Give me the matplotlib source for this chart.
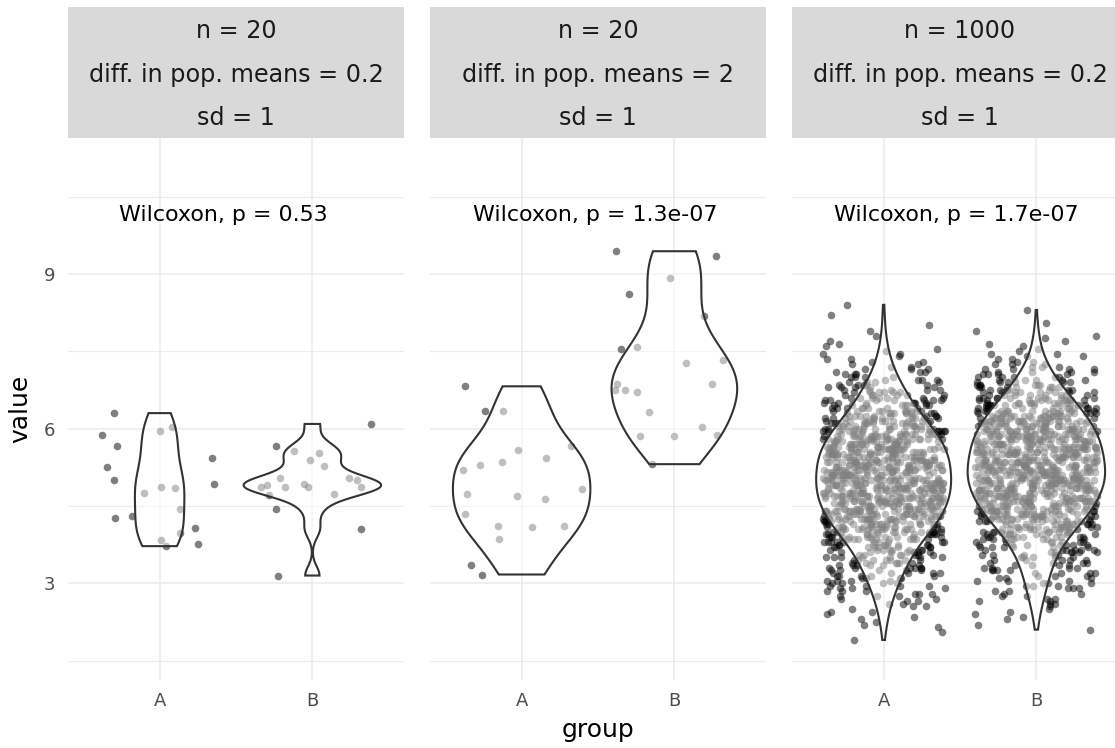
import numpy as np
import matplotlib
matplotlib.use("Agg")
import matplotlib.pyplot as plt

# values
groups = ["A", "B"]

# n = 20, diff. in pop. means = 0.2
p1_a = [6.30, 5.96, 6.04, 5.88, 5.66, 5.42, 5.26, 5.00, 4.93, 4.85,
        4.76, 4.86, 4.44, 4.30, 4.27, 4.08, 3.98, 3.83, 3.77, 3.72]
p1_b = [6.09, 5.67, 5.52, 5.40, 5.56, 5.28, 5.04, 5.04, 5.00, 4.91,
        4.86, 4.86, 4.87, 4.87, 4.93, 4.72, 4.73, 4.44, 4.05, 3.15]

# n = 20, diff. in pop. means = 2
p2_a = [6.82, 6.34, 6.35, 5.59, 5.66, 5.42, 5.36, 5.19, 5.29, 4.82,
        4.69, 4.63, 4.74, 4.34, 4.12, 4.09, 4.12, 3.85, 3.35, 3.17]
p2_b = [9.44, 9.34, 8.92, 8.61, 8.19, 7.59, 7.55, 7.28, 7.33, 6.87,
        6.87, 6.71, 6.75, 6.75, 6.32, 6.04, 5.86, 5.88, 5.85, 5.31]

# n = 1000: too many points to list, so kept as counts per value (0.05 steps)
bin_values = [
    1.90, 1.95, 2.00, 2.05, 2.10, 2.15, 2.20, 2.25, 2.30, 2.35,
    2.40, 2.45, 2.50, 2.55, 2.60, 2.65, 2.70, 2.75, 2.80, 2.85,
    2.90, 2.95, 3.00, 3.05, 3.10, 3.15, 3.20, 3.25, 3.30, 3.35,
    3.40, 3.45, 3.50, 3.55, 3.60, 3.65, 3.70, 3.75, 3.80, 3.85,
    3.90, 3.95, 4.00, 4.05, 4.10, 4.15, 4.20, 4.25, 4.30, 4.35,
    4.40, 4.45, 4.50, 4.55, 4.60, 4.65, 4.70, 4.75, 4.80, 4.85,
    4.90, 4.95, 5.00, 5.05, 5.10, 5.15, 5.20, 5.25, 5.30, 5.35,
    5.40, 5.45, 5.50, 5.55, 5.60, 5.65, 5.70, 5.75, 5.80, 5.85,
    5.90, 5.95, 6.00, 6.05, 6.10, 6.15, 6.20, 6.25, 6.30, 6.35,
    6.40, 6.45, 6.50, 6.55, 6.60, 6.65, 6.70, 6.75, 6.80, 6.85,
    6.90, 6.95, 7.00, 7.05, 7.10, 7.15, 7.20, 7.25, 7.30, 7.35,
    7.40, 7.45, 7.50, 7.55, 7.60, 7.65, 7.70, 7.75, 7.80, 7.85,
    7.90, 7.95, 8.00, 8.05, 8.10, 8.15, 8.20, 8.25, 8.30, 8.35,
    8.40]
p3_a_counts = [
    1, 0, 0, 1, 0, 1, 1, 1, 1, 1,
    1, 2, 1, 2, 2, 2, 2, 3, 3, 3,
    3, 4, 4, 4, 4, 5, 5, 5, 6, 6,
    6, 7, 7, 7, 8, 8, 8, 9, 10, 10,
    11, 11, 12, 12, 13, 14, 14, 14, 15, 15,
    16, 16, 16, 16, 17, 17, 17, 17, 17, 17,
    18, 17, 18, 17, 17, 17, 17, 17, 17, 17,
    17, 17, 17, 16, 16, 16, 15, 15, 15, 14,
    14, 13, 13, 12, 12, 11, 10, 10, 9, 9,
    8, 8, 7, 7, 7, 6, 6, 5, 5, 5,
    4, 4, 4, 3, 3, 3, 2, 2, 2, 2,
    1, 2, 1, 1, 1, 1, 1, 0, 1, 0,
    1, 0, 1, 0, 0, 0, 1, 0, 0, 0,
    1]
p3_b_counts = [
    0, 0, 0, 0, 1, 0, 1, 0, 1, 1,
    1, 1, 1, 1, 2, 2, 2, 2, 2, 2,
    3, 3, 3, 3, 3, 3, 4, 4, 4, 4,
    4, 5, 5, 5, 6, 6, 6, 7, 7, 8,
    8, 9, 9, 10, 11, 11, 12, 12, 13, 14,
    14, 14, 15, 15, 16, 16, 16, 17, 17, 17,
    17, 17, 18, 18, 18, 18, 18, 18, 17, 17,
    17, 17, 17, 17, 17, 17, 17, 16, 16, 16,
    16, 15, 15, 15, 14, 14, 13, 13, 12, 12,
    11, 11, 10, 10, 9, 8, 8, 7, 7, 6,
    6, 5, 5, 4, 4, 4, 3, 3, 2, 2,
    2, 2, 1, 1, 1, 1, 1, 1, 1, 0,
    1, 0, 0, 1, 0, 0, 0, 0, 1, 0,
    0]

strip_n = ["20", "20", "1000"]
strip_diff = ["0.2", "2", "0.2"]
strip_sd = ["1", "1", "1"]
p_values = ["0.53", "1.3e-07", "1.7e-07"]

p3_a = np.repeat(bin_values, p3_a_counts)
p3_b = np.repeat(bin_values, p3_b_counts)
panels = [(p1_a, p1_b), (p2_a, p2_b), (p3_a, p3_b)]


def nrd0(x):
    sd = np.std(x, ddof=1)
    q75, q25 = np.percentile(x, [75, 25])
    return 0.9 * min(sd, (q75 - q25) / 1.34) * len(x) ** -0.2


def density(x, n=512):
    x = np.asarray(x, dtype=float)
    bw = nrd0(x)
    ys = np.linspace(x.min(), x.max(), n)
    z = (ys[:, None] - x[None, :]) / bw
    d = np.exp(-0.5 * z ** 2).sum(axis=1) / (len(x) * bw * np.sqrt(2 * np.pi))
    return ys, d


W, H = 1115, 748
fig = plt.figure(figsize=(W / 100, H / 100), dpi=100)

panel_left = [68, 430, 792]
panel_w = 336
top, bottom, strip_top = 138.3, 680, 7
label_x = [1.415, 1.48, 1.475]

rng = np.random.default_rng(11)   # jitter only

for i, (left, (va, vb)) in enumerate(zip(panel_left, panels)):
    ax = fig.add_axes([left / W, 1 - bottom / H, panel_w / W, (bottom - top) / H])

    # jittered points
    for pos, vals in enumerate([va, vb], start=1):
        jx = pos + rng.uniform(-0.4, 0.4, len(vals))
        ax.scatter(jx, vals, s=30, color="black", alpha=0.5, lw=0, zorder=2)

    # violins, area-scaled within the panel
    dens = [density(v) for v in (va, vb)]
    dmax = max(d.max() for _, d in dens)
    for pos, (ys, d) in enumerate(dens, start=1):
        half = 0.45 * d / dmax
        ax.fill(np.r_[pos - half, (pos + half)[::-1]], np.r_[ys, ys[::-1]],
                facecolor=(1, 1, 1, 0.5), edgecolor="#333333", lw=1.5, zorder=3)

    ax.text(label_x[i], 10.14, "Wilcoxon, p = " + p_values[i], ha="center", va="center",
            fontsize=15.9, color="black", zorder=4)

    ax.set_xlim(0.4, 2.6)
    ax.set_ylim(1.124, 11.63)
    ax.set_xticks([1, 2])
    ax.set_xticklabels(groups)
    ax.set_yticks([3, 6, 9])
    ax.set_yticks([1.5, 4.5, 7.5, 10.5], minor=True)
    ax.grid(which="major", color="#ebebeb", lw=1.1)
    ax.grid(which="minor", axis="y", color="#ebebeb", lw=0.8)
    ax.set_axisbelow(True)
    ax.tick_params(which="both", length=0, labelsize=13, labelcolor="#4d4d4d")
    ax.tick_params(axis="x", pad=9)
    ax.tick_params(axis="y", pad=9, labelleft=(i == 0))
    for s in ax.spines.values():
        s.set_visible(False)

    # facet strip
    sax = fig.add_axes([left / W, 1 - top / H, panel_w / W, (top - strip_top) / H])
    sax.set_facecolor("#d9d9d9")
    sax.set_xticks([])
    sax.set_yticks([])
    for s in sax.spines.values():
        s.set_visible(False)
    lines = ["n = " + strip_n[i], "diff. in pop. means = " + strip_diff[i], "sd = " + strip_sd[i]]
    for txt, yf in zip(lines, [0.817, 0.481, 0.153]):
        sax.text(0.5, yf, txt, ha="center", va="center", fontsize=17.2, color="#1a1a1a",
                 transform=sax.transAxes)

fig.text(20 / W, 1 - 409 / H, "value", rotation=90, ha="center", va="center", fontsize=18)
fig.text(598 / W, 1 - 730 / H, "group", ha="center", va="center", fontsize=18)

fig.savefig("out.png", dpi=100)
